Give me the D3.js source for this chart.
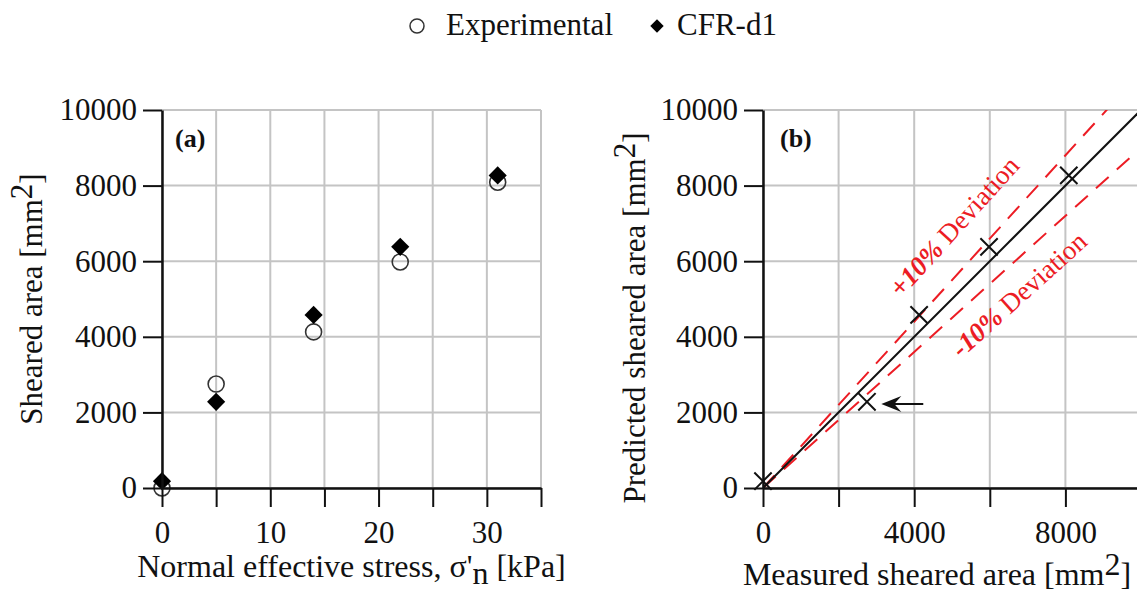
<!DOCTYPE html>
<html>
<head>
<meta charset="utf-8">
<script src="https://cdn.jsdelivr.net/npm/d3@7"></script>
<style>
body { margin: 0; background: #fff; }
svg text { font-family: "Liberation Serif", "Times New Roman", serif; fill: #111; }
</style>
</head>
<body>
<div id="chart"></div>
<script>
// values
var stress = [0, 5, 14, 22, 31];                  // kPa
var experimental = [0, 2750, 4130, 5980, 8090];   // mm2 (measured)
var cfrD1 = [180, 2280, 4580, 6380, 8270];        // mm2 (predicted)
var deviations = [1.1, 0.9];
var seriesNames = ["Experimental", "CFR-d1"];

var areaTicks = [0, 2000, 4000, 6000, 8000, 10000];
var stressTicks = [0, 5, 10, 15, 20, 25, 30, 35];
var stressLabels = [0, 10, 20, 30];
var measuredLabels = [0, 4000, 8000];

var W = 1137, H = 593;
var red = "#ec1c24", gridCol = "#c4c4c4";

var svg = d3.select("#chart").append("svg")
	.attr("width", W)
	.attr("height", H);

var yA = d3.scaleLinear().domain([0, 10000]).range([488, 110]);
var xA = d3.scaleLinear().domain([0, 35]).range([162, 541]);
var xB = d3.scaleLinear().domain([0, 10000]).range([763, 1141]);
var yB = yA.copy();

function grid(g, x, y, xs, ys) {
	g.selectAll(".gx").data(xs).enter().append("line")
		.attr("x1", d => x(d)).attr("x2", d => x(d))
		.attr("y1", y.range()[0]).attr("y2", y.range()[1])
		.attr("stroke", gridCol).attr("stroke-width", 2);
	g.selectAll(".gy").data(ys).enter().append("line")
		.attr("y1", d => y(d)).attr("y2", d => y(d))
		.attr("x1", x.range()[0]).attr("x2", x.range()[1])
		.attr("stroke", gridCol).attr("stroke-width", 2);
}

function axes(g, x, y, xMajor, xMinor, xLabels, yMajor, yMinor) {
	var y0 = y(0), x0 = x.range()[0];

	var ax = g.append("g").attr("transform", "translate(0," + y0 + ")");
	ax.call(d3.axisBottom(x).tickValues(xMinor).tickSize(10).tickFormat("").tickSizeOuter(0));
	ax.call(d3.axisBottom(x).tickValues(xMajor).tickSize(19).tickPadding(14).tickSizeOuter(0)
		.tickFormat(d => xLabels.indexOf(d) >= 0 ? d : ""));

	var ay = g.append("g").attr("transform", "translate(" + x0 + ",0)");
	ay.call(d3.axisLeft(y).tickValues(yMinor).tickSize(11).tickFormat("").tickSizeOuter(0));
	ay.call(d3.axisLeft(y).tickValues(yMajor).tickSize(19).tickPadding(6).tickSizeOuter(0)
		.tickFormat(d3.format("d")));

	g.selectAll(".domain").attr("stroke", "#111").attr("stroke-width", 2.5);
	g.selectAll(".tick line").attr("stroke", "#111").attr("stroke-width", 2);
	g.selectAll(".tick text").attr("font-size", 31).attr("fill", "#111")
		.style("font-family", "Liberation Serif");
}

// ---------- panel (a)
var pa = svg.append("g");
grid(pa, xA, yA, stressTicks, areaTicks);

pa.selectAll(".exp").data(stress).enter().append("circle")
	.attr("cx", d => xA(d))
	.attr("cy", (d, i) => yA(experimental[i]))
	.attr("r", 8)
	.attr("fill", "none").attr("stroke", "#333").attr("stroke-width", 1.6);

var diamond = d3.symbol(d3.symbolSquare, 165);
pa.selectAll(".cfr").data(stress).enter().append("path")
	.attr("d", diamond)
	.attr("transform", (d, i) => "translate(" + xA(d) + "," + yA(cfrD1[i]) + ") rotate(45)")
	.attr("fill", "#000");

axes(pa, xA, yA, stressTicks, d3.range(0, 36, 1), stressLabels, areaTicks, d3.range(0, 10001, 500));

pa.append("text").attr("x", 175).attr("y", 147)
	.attr("font-size", 26).attr("font-weight", "bold").text("(a)");

var tya = pa.append("text")
	.attr("transform", "translate(42," + ((yA(0) + yA(10000)) / 2) + ") rotate(-90)")
	.attr("text-anchor", "middle").attr("font-size", 31);
tya.append("tspan").text("Sheared area [mm");
tya.append("tspan").attr("dy", -10).text("2");
tya.append("tspan").attr("dy", 10).text("]");

var txa = pa.append("text")
	.attr("x", (xA(0) + xA(35)) / 2).attr("y", 577)
	.attr("text-anchor", "middle").attr("font-size", 32);
txa.append("tspan").text("Normal effective stress, \u03c3'");
txa.append("tspan").attr("dy", 7).text("n");
txa.append("tspan").attr("dy", -7).text(" [kPa]");

// ---------- panel (b)
var pb = svg.append("g");
grid(pb, xB, yB, areaTicks, areaTicks);

svg.append("clipPath").attr("id", "clipB").append("rect")
	.attr("x", xB(0)).attr("y", yB(10000))
	.attr("width", xB(10000) - xB(0)).attr("height", yB(0) - yB(10000));

var lines = pb.append("g").attr("clip-path", "url(#clipB)");
var line = d3.line().x(d => xB(d[0])).y(d => yB(d[1]));

lines.selectAll(".dev").data(deviations).enter().append("path")
	.attr("d", r => line([[0, 0], [10000, 10000 * r]]))
	.attr("fill", "none").attr("stroke", red).attr("stroke-width", 2)
	.attr("stroke-dasharray", "17,11");

lines.append("path")
	.attr("d", line([[0, 0], [10000, 10000]]))
	.attr("fill", "none").attr("stroke", "#111").attr("stroke-width", 2);

var xMark = {
	draw: function(ctx, size) {
		var r = Math.sqrt(size) / 2;
		ctx.moveTo(-r, -r); ctx.lineTo(r, r);
		ctx.moveTo(-r, r); ctx.lineTo(r, -r);
	}
};
pb.selectAll(".pt").data(experimental).enter().append("path")
	.attr("d", d3.symbol(xMark, 300))
	.attr("transform", (d, i) => "translate(" + xB(d) + "," + yB(cfrD1[i]) + ")")
	.attr("fill", "none").attr("stroke", "#111").attr("stroke-width", 2);

// arrow pointing at the 5 kPa point
var arrowY = yB(2220), arrowTip = xB(3130), arrowTail = xB(4240);
pb.append("line")
	.attr("x1", arrowTail).attr("x2", arrowTip + 8)
	.attr("y1", arrowY).attr("y2", arrowY)
	.attr("stroke", "#111").attr("stroke-width", 2);
pb.append("path")
	.attr("d", "M" + arrowTip + "," + arrowY + "l20,-8l-7,8l7,8z")
	.attr("fill", "#111");

// deviation labels, rotated along their lines
function devLabel(ratio, sign, px, py, off) {
	var ang = Math.atan2(yB(ratio * 1000) - yB(0), xB(1000) - xB(0)) * 180 / Math.PI;
	var t = pb.append("text")
		.attr("transform", "translate(" + xB(px) + "," + yB(py) + ") rotate(" + ang + ")")
		.attr("text-anchor", "middle").attr("dy", off).attr("font-size", 27).attr("fill", red);
	t.append("tspan").attr("font-weight", "bold").attr("font-style", "italic")
		.attr("fill", red).text(sign + "10%");
	t.append("tspan").attr("fill", red).text(" Deviation");
}
devLabel(1.1, "+", 5080, 6900, "0.3em");
devLabel(0.9, "-", 6790, 5100, "0.3em");

axes(pb, xB, yB, areaTicks, d3.range(0, 10001, 500), measuredLabels, areaTicks, d3.range(0, 10001, 500));

pb.append("text").attr("x", 780).attr("y", 147)
	.attr("font-size", 26).attr("font-weight", "bold").text("(b)");

var tyb = pb.append("text")
	.attr("transform", "translate(645,318) rotate(-90)")
	.attr("text-anchor", "middle").attr("font-size", 31);
tyb.append("tspan").text("Predicted sheared area [mm");
tyb.append("tspan").attr("dy", -10).text("2");
tyb.append("tspan").attr("dy", 10).text("]");

var txb = pb.append("text")
	.attr("x", 937).attr("y", 585)
	.attr("text-anchor", "middle").attr("font-size", 32);
txb.append("tspan").text("Measured sheared area [mm");
txb.append("tspan").attr("dy", -10).text("2");
txb.append("tspan").attr("dy", 10).text("]");

// ---------- legend
var leg = svg.append("g");
leg.append("circle").attr("cx", 417).attr("cy", 26).attr("r", 7)
	.attr("fill", "none").attr("stroke", "#333").attr("stroke-width", 1.5);
leg.append("text").attr("x", 446).attr("y", 35).attr("font-size", 31).text(seriesNames[0]);
leg.append("path").attr("d", d3.symbol(d3.symbolSquare, 90))
	.attr("transform", "translate(657,26) rotate(45)").attr("fill", "#000");
leg.append("text").attr("x", 677).attr("y", 35).attr("font-size", 31).text(seriesNames[1]);
</script>
</body>
</html>
